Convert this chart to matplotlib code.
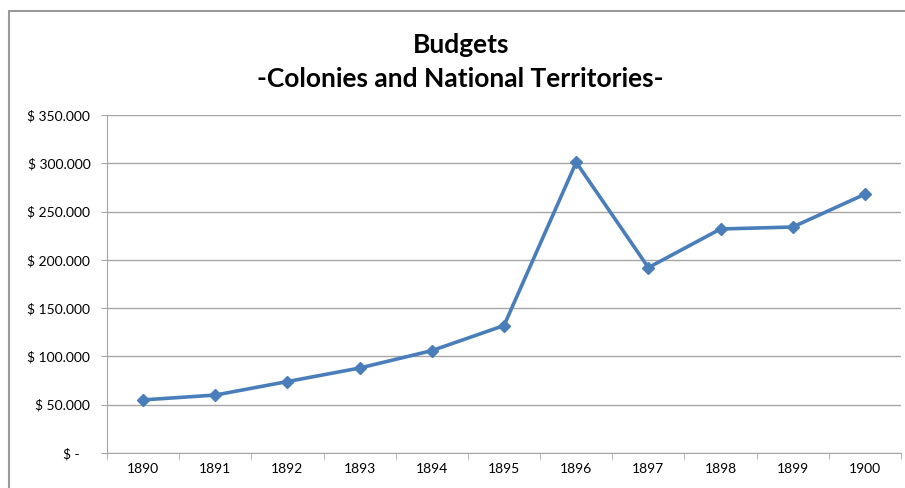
import numpy as np
import matplotlib.pyplot as plt
from matplotlib.patches import Rectangle
from matplotlib.ticker import FuncFormatter, FixedLocator

plt.rcParams['font.family'] = ['Lato', 'DejaVu Sans']

years = ['1890', '1891', '1892', '1893', '1894', '1895',
         '1896', '1897', '1898', '1899', '1900']
budget = [55000, 60000, 74000, 88000, 106000, 132000,
          301000, 192000, 232000, 234000, 268000]

y_ticks = [0, 50000, 100000, 150000, 200000, 250000, 300000, 350000]


def money(v, pos):
    if v == 0:
        return '$ -   '
    return '$ {:,.0f}'.format(v).replace(',', '.')


fig = plt.figure(figsize=(9.05, 4.88), dpi=100)
ax = fig.add_axes([0.1182, 0.0717, 0.8774, 0.6926])

x = np.arange(len(years))
ax.plot(x, budget, color='#4a7ebb', lw=2.6, marker='D', ms=6.5,
        markerfacecolor='#4a7ebb', markeredgecolor='#4a7ebb', zorder=3)

ax.set_xlim(-0.5, len(years) - 0.5)
ax.set_ylim(0, 350000)
ax.set_yticks(y_ticks)
ax.yaxis.set_major_formatter(FuncFormatter(money))
ax.set_xticks(x)
ax.set_xticklabels(years)
ax.xaxis.set_minor_locator(FixedLocator(np.arange(-0.5, len(years), 1.0)))

ax.grid(axis='y', color='#a6a6a6', lw=1.0)
ax.set_axisbelow(True)
for s in ['top', 'right']:
    ax.spines[s].set_visible(False)
ax.spines['left'].set_color('#a6a6a6')
ax.spines['bottom'].set_color('#a6a6a6')

ax.tick_params(axis='y', length=4, color='#a6a6a6', labelsize=10, pad=8)
ax.tick_params(axis='x', which='major', length=0, labelsize=10, pad=7)
ax.tick_params(axis='x', which='minor', length=4, color='#a6a6a6')

fig.text(0.509, 0.907, 'Budgets', ha='center', va='center',
         fontsize=19, fontweight='bold')
fig.text(0.509, 0.838, '-Colonies and National Territories-', ha='center',
         va='center', fontsize=19, fontweight='bold')

# chart area border, runs off the right and bottom edges
fig.patches.append(Rectangle((0.0095, -0.05), 1.1, 1.027, transform=fig.transFigure,
                             fill=False, edgecolor='#9a9a9a', lw=1.5))

fig.savefig('out.png', dpi=100)
